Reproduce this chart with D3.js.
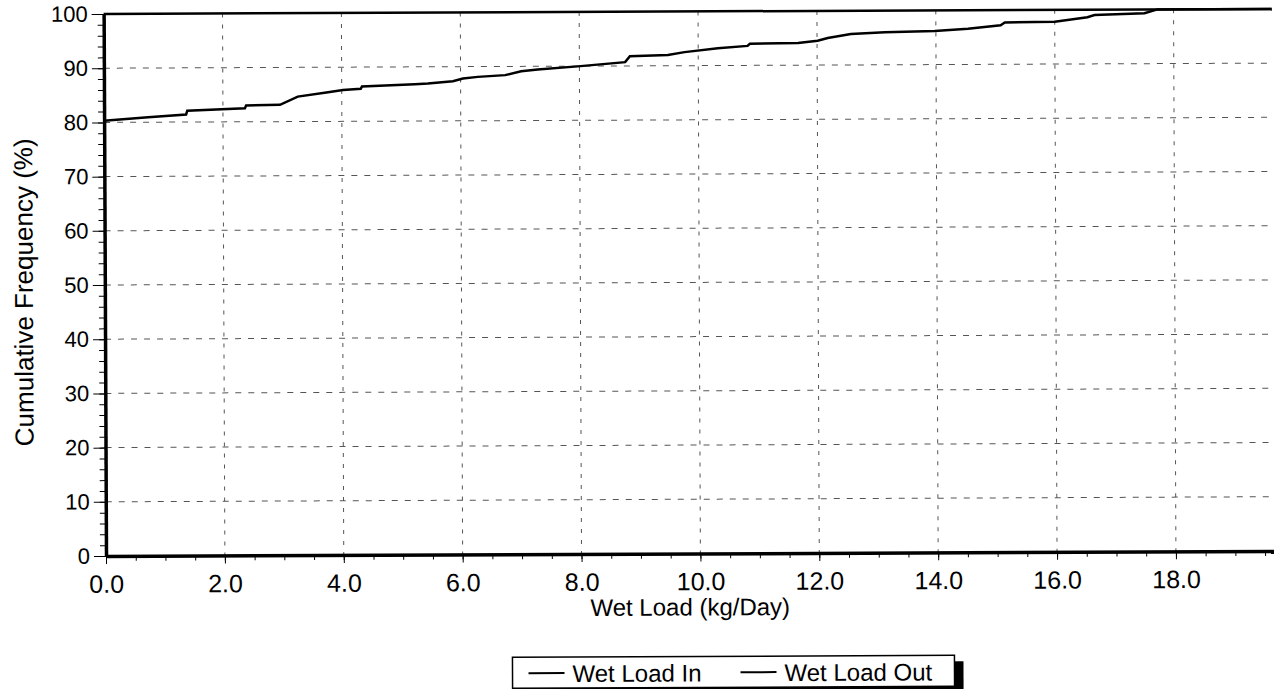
<!DOCTYPE html>
<html>
<head>
<meta charset="utf-8">
<script src="https://cdn.jsdelivr.net/npm/d3@7"></script>
<style>
  body { margin: 0; background: #fff; }
  text { font-family: "Liberation Sans", Arial, sans-serif; fill: #000; }
</style>
</head>
<body>
<div id="chart"></div>
<script>
// Data
const seriesNames = ['Wet Load In', 'Wet Load Out'];

// [load kg/day, cumulative %]
const wetLoadIn = [
  [0.0, 80.3], [0.74, 80.9], [1.38, 81.4], [1.40, 82.1], [2.37, 82.5], [2.39, 83.0],
  [2.96, 83.1], [3.26, 84.6], [3.77, 85.4], [4.02, 85.8], [4.32, 86.0], [4.34, 86.4],
  [5.23, 86.8], [5.45, 86.9], [5.87, 87.3], [6.04, 87.8], [6.29, 88.1], [6.75, 88.4],
  [7.02, 89.1], [7.30, 89.4], [8.02, 90.0], [8.77, 90.7], [8.85, 91.8], [9.49, 92.0],
  [9.77, 92.5], [10.33, 93.2], [10.83, 93.6], [10.87, 94.0], [11.68, 94.1], [12.01, 94.5],
  [12.18, 95.0], [12.57, 95.7], [13.14, 96.0], [13.98, 96.2], [14.54, 96.6], [15.09, 97.2],
  [15.16, 97.7], [16.00, 97.8], [16.55, 98.6], [16.67, 99.0], [17.51, 99.3], [17.73, 100],
  [19.65, 100]
];
const wetLoadOut = [[0.0, 100], [19.65, 100]];

const xMax = 19.65;
const xTickValues = d3.range(0, 19, 2);
const xMinorValues = d3.range(0, 19.65, 0.5);
const yTickValues = d3.range(0, 101, 10);
const yMinorValues = d3.range(0, 101, 2);

// Layout
const width   = 1274;
const height  = 689;
const plotL   = 106;
const plotT   = 14;
const plotB   = 556;

const svg = d3.select('#chart')
  .append('svg')
    .attr('width', width)
    .attr('height', height);

// the scan is a little tilted
const g = svg.append('g')
  .attr('transform', `rotate(-0.25, ${plotL}, ${plotB})`);

const x = d3.scaleLinear().domain([0, xMax]).range([plotL, width]);
const y = d3.scaleLinear().domain([0, 100]).range([plotB, plotT]);

// Dashed grid
g.append('g')
  .selectAll('line')
  .data(xTickValues.filter(d => d > 0))
  .join('line')
    .attr('x1', d => x(d)).attr('x2', d => x(d))
    .attr('y1', y(100)).attr('y2', y(0))
    .attr('stroke', '#555')
    .attr('stroke-width', 1)
    .attr('stroke-dasharray', '4,7');

g.append('g')
  .selectAll('line')
  .data(yTickValues.filter(d => d > 0 && d < 100))
  .join('line')
    .attr('x1', x(0)).attr('x2', x(xMax))
    .attr('y1', d => y(d)).attr('y2', d => y(d))
    .attr('stroke', '#555')
    .attr('stroke-width', 1)
    .attr('stroke-dasharray', '6,7');

// Minor ticks
g.append('g')
  .attr('transform', `translate(${plotL},0)`)
  .call(d3.axisLeft(y).tickValues(yMinorValues).tickSize(6).tickSizeOuter(0).tickFormat(''))
  .call(a => a.select('.domain').remove());

g.append('g')
  .attr('transform', `translate(0,${plotB})`)
  .call(d3.axisBottom(x).tickValues(xMinorValues).tickSize(5).tickSizeOuter(0).tickFormat(''))
  .call(a => a.select('.domain').remove());

// Major axes
const yAxis = g.append('g')
  .attr('transform', `translate(${plotL},0)`)
  .call(d3.axisLeft(y).tickValues(yTickValues).tickSize(12).tickSizeOuter(0).tickPadding(4).tickFormat(d3.format('d')));
yAxis.selectAll('text').attr('font-size', 22).attr('font-family', '"Liberation Sans", Arial, sans-serif');
yAxis.select('.domain').attr('stroke-width', 3.5);

const xAxis = g.append('g')
  .attr('transform', `translate(0,${plotB})`)
  .call(d3.axisBottom(x).tickValues(xTickValues).tickSize(8).tickSizeOuter(0).tickPadding(11).tickFormat(d3.format('.1f')));
xAxis.selectAll('text').attr('font-size', 25).attr('font-family', '"Liberation Sans", Arial, sans-serif');
xAxis.select('.domain').attr('stroke-width', 3.5);

// Series
const line = d3.line().x(d => x(d[0])).y(d => y(d[1]));

g.append('path')
  .datum(wetLoadOut)
  .attr('fill', 'none')
  .attr('stroke', '#000')
  .attr('stroke-width', 2.5)
  .attr('d', line);

g.append('path')
  .datum(wetLoadIn)
  .attr('fill', 'none')
  .attr('stroke', '#000')
  .attr('stroke-width', 2.5)
  .attr('d', line);

// Axis titles
g.append('text')
  .attr('transform', `translate(34, 292) rotate(-90)`)
  .attr('text-anchor', 'middle')
  .attr('font-size', 26)
  .text('Cumulative Frequency (%)');

g.append('text')
  .attr('x', (plotL + width) / 2)
  .attr('y', 618)
  .attr('text-anchor', 'middle')
  .attr('font-size', 24)
  .text('Wet Load (kg/Day)');

// Legend
const legend = g.append('g').attr('transform', 'translate(512,659)');
legend.append('rect')
  .attr('x', 9).attr('y', 6).attr('width', 442).attr('height', 31)
  .attr('fill', '#000');
legend.append('rect')
  .attr('width', 442).attr('height', 31)
  .attr('fill', '#fff').attr('stroke', '#000').attr('stroke-width', 1.5);

const itemX = [16, 228];
seriesNames.forEach((name, i) => {
  legend.append('line')
    .attr('x1', itemX[i]).attr('x2', itemX[i] + 36)
    .attr('y1', 16).attr('y2', 16)
    .attr('stroke', '#000').attr('stroke-width', 2);
  legend.append('text')
    .attr('x', itemX[i] + 44)
    .attr('y', 25)
    .attr('font-size', 24)
    .text(name);
});
</script>
</body>
</html>
